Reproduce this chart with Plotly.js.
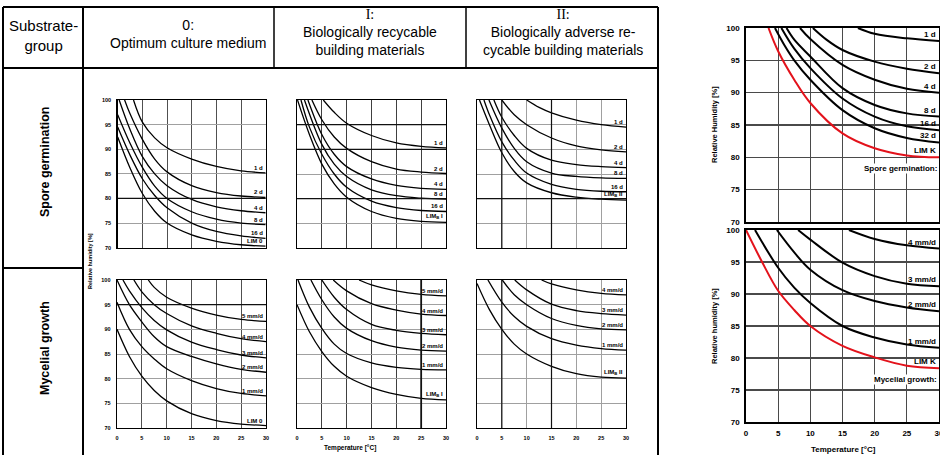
<!DOCTYPE html>
<html><head><meta charset="utf-8">
<script src="https://cdn.plot.ly/plotly-3.0.1.min.js"></script>
<style>html,body{margin:0;padding:0;background:#fff}#chart{width:940px;height:455px}</style>
</head><body><div id="chart"></div>
<script>
// ---------- DATA ----------
// Spore germination, substrate group 0
const spore0Labels = ['1 d','2 d','4 d','8 d','16 d','LIM 0'];
const spore0T = [
  [3.2,5,7.5,10,15,20,25,30],
  [1.4,2.5,5,7.5,10,15,20,25,30],
  [0.3,2.5,5,7.5,10,15,20,25,30],
  [0,2.5,5,7.5,10,15,20,25,30],
  [0,2.5,5,7.5,10,15,20,25,30],
  [0,2.5,5,7.5,10,15,20,25,30]
];
const spore0RH = [
  [100,95.5,92.3,90.3,88,86.5,85.6,85.2],
  [100,97.2,92,88,85.4,82.6,81.2,80.5,80.2],
  [100,94,88.5,85,82.6,79.8,78.3,77.5,77.1],
  [97,91.2,86.3,82.5,80,77.3,75.8,75,74.7],
  [94.5,88.8,84,80.6,78.1,75,73.3,72.4,71.9],
  [92.5,86.2,81,77.4,75,72.6,71.3,70.6,70.3]
];
// Spore germination, substrate group I
const sporeILabels = ['1 d','2 d','4 d','8 d','16 d','LIM<sub>B</sub> I'];
const sporeIT = [
  [5.3,7.5,10,15,20,25,30],
  [3,5,7.5,10,15,20,25,30],
  [2.2,5,7.5,10,15,20,25,30],
  [1.5,5,7.5,10,15,20,25,30],
  [0.8,2.5,5,7.5,10,15,20,25,30],
  [0.1,2.5,5,7.5,10,15,20,25,30]
];
const sporeIRH = [
  [100,97.5,95.3,92.8,91.3,90.6,90.3],
  [100,96,92.5,90.2,87.5,86,85.4,85.1],
  [100,93,89,86.5,84,82.7,82.1,81.9],
  [100,91,87,84.5,81.8,80.6,80.1,79.9],
  [100,94.5,89,85,82.3,79.5,78.2,77.6,77.4],
  [100,93,87,83,80.3,77.4,76,75.4,75.2]
];
// Spore germination, substrate group II
const sporeIILabels = ['1 d','2 d','4 d','8 d','16 d','LIM<sub>B</sub> II'];
const sporeIIT = [
  [10,12.5,15,20,25,30],
  [5,7.5,10,15,20,25,30],
  [3.4,5,7.5,10,15,20,25,30],
  [2.4,5,7.5,10,15,20,25,30],
  [1.4,2.5,5,7.5,10,15,20,25,30],
  [0.5,2.5,5,7.5,10,15,20,25,30]
];
const sporeIIRH = [
  [100,98.5,97.4,95.9,95,94.5],
  [100,97,95,92.3,90.7,89.9,89.5],
  [100,96.5,92.8,90.2,87.8,86.9,86.5,86.3],
  [100,94.3,90.2,87.5,85.2,84.5,84.2,84.1],
  [100,97,91.5,87.8,85.2,82.9,81.9,81.5,81.4],
  [100,95,89.3,85.5,83.2,81.2,80.3,79.9,79.7]
];
// Mycelial growth, substrate group 0
const myc0Labels = ['5 mm/d','4 mm/d','3 mm/d','2 mm/d','1 mm/d','LIM 0'];
const myc0T = [
  [6.3,7.5,10,15,20,25,30],
  [3.4,5,7.5,10,15,20,25,30],
  [1.2,2.5,5,7.5,10,15,20,25,30],
  [0,2.5,5,7.5,10,15,20,25,30],
  [0,2.5,5,7.5,10,15,20,25,30],
  [0,2.5,5,7.5,10,15,20,25,30]
];
const myc0RH = [
  [100,98.5,96.5,94.3,92.9,92.0,91.6],
  [100,97.6,95,93.2,90.7,89.2,88.1,87.5],
  [100,97.8,94.4,91.8,89.9,87.4,85.9,84.8,84.2],
  [100,95,91.5,88.5,86.5,84.5,83,81.9,81.3],
  [95.5,90,86.5,84,82,79.6,78,77,76.5],
  [90,84.5,80.5,77.6,75.5,72.9,71.5,70.8,70.5]
];
// Mycelial growth, substrate group I
const mycILabels = ['5 mm/d','4 mm/d','3 mm/d','2 mm/d','1 mm/d','LIM<sub>B</sub> I'];
const mycIT = [
  [12.5,15,20,25,30],
  [7.3,10,15,20,25,30],
  [5,7.5,10,15,20,25,30],
  [2.8,5,7.5,10,15,20,25,30],
  [0.2,2.5,5,7.5,10,15,20,25,30],
  [0,2.5,5,7.5,10,15,20,25,30]
];
const mycIRH = [
  [100,99,97.8,97.1,96.8],
  [100,97.8,95.2,93.9,93.1,92.8],
  [100,96.5,94,91,89.8,89.2,88.9],
  [100,96,92.5,90.2,87.7,86.4,85.8,85.6],
  [100,94.5,90.2,87,85.1,83.2,82.3,81.9,81.8],
  [95,89.5,85.5,82.5,80.5,78.2,76.8,76,75.7]
];
// Mycelial growth, substrate group II
const mycIILabels = ['4 mm/d','3 mm/d','2 mm/d','1 mm/d','LIM<sub>B</sub> II'];
const mycIIT = [
  [13,15,20,25,30],
  [7.6,10,15,20,25,30],
  [5.1,7.5,10,15,20,25,30],
  [2.2,5,7.5,10,15,20,25,30],
  [0,2.5,5,7.5,10,15,20,25,30]
];
const mycIIRH = [
  [100,99.2,98,97.3,97],
  [100,98,95.1,93.8,93.2,92.9],
  [100,97,95,92.2,90.8,90.1,89.9],
  [100,95.5,92.6,90.6,88.1,86.8,86.1,85.8],
  [99.3,94,90,87,85,82.5,81,80.3,80.1]
];
// Right: spore germination, LIM K
const sporeKLabels = ['1 d','2 d','4 d','8 d','16 d','32 d','LIM K'];
const sporeKT = [
  [17.4,20,25,30],
  [10.4,12.5,15,20,25,30],
  [8.4,10,15,20,25,30],
  [6.3,7.5,10,15,20,25,30],
  [5.5,7.5,10,15,20,25,30],
  [4.5,6,7.5,10,15,20,25,30],
  [3.5,5,7.5,10,15,20,25,30]
];
const sporeKRH = [
  [100,99.1,98.4,98],
  [100,98.2,96.6,94.8,93.7,93],
  [100,98.3,94.3,92,90.6,90],
  [100,98.2,95.6,90.7,88.1,86.8,86.3],
  [100,96.8,93.8,89.1,86.3,84.8,84.2],
  [100,97.3,95,92,87.3,84.5,83,82.3],
  [100,96.4,92,88.4,83.7,81.4,80.3,80]
];
// Right: mycelial growth, LIM K
const mycKLabels = ['4 mm/d','3 mm/d','2 mm/d','1 mm/d','LIM K'];
const mycKT = [
  [16,20,25,30],
  [8.1,10,15,20,25,30],
  [4.8,7.5,10,15,20,25,30],
  [1.4,5,7.5,10,15,20,25,30],
  [0,2.5,5,7.5,10,15,20,25,30]
];
const mycKRH = [
  [100,98.6,97.6,97.1],
  [100,98.5,94.9,92.8,91.6,91.2],
  [100,96.5,93.8,90.6,88.9,87.9,87.3],
  [100,94.1,91,88.6,85,83.2,82.1,81.6],
  [100,95,90.5,87.5,85,81.9,80.1,78.8,78.4]
];
const xTicks = [0,5,10,15,20,25,30];
const yTicks = [70,75,80,85,90,95,100];

// ---------- LAYOUT ----------
const W = 940, H = 455;
const PX = v => v / W;
const PY = v => 1 - v / H;
const FONT = 'Liberation Sans, Arial, sans-serif';

const charts = [
  {xd:[117.7,265.7], yd:[100,247.7], T:spore0T, RH:spore0RH, L:spore0Labels, yt:true, xt:false, xg:'#505050', yg:'#a0a0a0', hl:[80], vl:[]},
  {xd:[297,446], yd:[100,248], T:sporeIT, RH:sporeIRH, L:sporeILabels, yt:false, xt:false, xg:'#404040', yg:'#a0a0a0', hl:[95,90,80], vl:[]},
  {xd:[477,626], yd:[100,248], T:sporeIIT, RH:sporeIIRH, L:sporeIILabels, yt:false, xt:false, xg:'#a0a0a0', yg:'#a0a0a0', hl:[80], vl:[5,15]},
  {xd:[117,266], yd:[280,428], T:myc0T, RH:myc0RH, L:myc0Labels, yt:true, xt:true, xg:'#505050', yg:'#a0a0a0', hl:[95], vl:[]},
  {xd:[297,446], yd:[280,428], T:mycIT, RH:mycIRH, L:mycILabels, yt:false, xt:true, xg:'#404040', yg:'#a0a0a0', hl:[], vl:[25]},
  {xd:[477,626], yd:[280,428], T:mycIIT, RH:mycIIRH, L:mycIILabels, yt:false, xt:true, xg:'#a0a0a0', yg:'#a0a0a0', hl:[], vl:[5,15]},
  {xd:[746,939], yd:[28,222], T:sporeKT, RH:sporeKRH, L:sporeKLabels, yt:true, xt:false, big:true, note:'Spore germination:'},
  {xd:[746,939], yd:[230,422], T:mycKT, RH:mycKRH, L:mycKLabels, yt:true, xt:true, big:true, note:'Mycelial growth:'}
];

const data = [];
const layout = {
  width: W, height: H, autosize: false,
  margin: {l:0, r:0, t:0, b:0, pad:0},
  paper_bgcolor: '#fff', plot_bgcolor: '#fff',
  showlegend: false,
  font: {family: FONT, color: '#000'},
  shapes: [], annotations: []
};

charts.forEach((c, i) => {
  const n = i === 0 ? '' : String(i + 1);
  const big = !!c.big;
  const tf = {family: FONT, size: big ? 8 : 5.5, weight: 'bold', color: '#000'};
  const common = {
    showgrid: true, gridwidth: big ? 1.2 : 1, zeroline: false,
    showline: true, mirror: true, linecolor: '#000', linewidth: big ? 1.8 : 1.4,
    ticks: '', tickfont: tf, fixedrange: true, ticklabelstandoff: big ? 3 : 4,
    ticklabeloverflow: 'allow'
  };
  layout['xaxis' + n] = Object.assign({}, common, {
    domain: [PX(c.xd[0]), PX(c.xd[1])], range: [0, 30], anchor: 'y' + n,
    tickmode: 'array', tickvals: xTicks, ticktext: xTicks.map(String),
    showticklabels: c.xt, gridcolor: big ? '#4a4a4a' : c.xg
  });
  layout['yaxis' + n] = Object.assign({}, common, {
    domain: [PY(c.yd[1]), PY(c.yd[0])], range: [70, 100], anchor: 'x' + n,
    tickmode: 'array', tickvals: yTicks, ticktext: yTicks.map(String),
    showticklabels: c.yt, gridcolor: big ? '#4a4a4a' : c.yg
  });
  (c.hl || []).forEach(v => layout.shapes.push({type:'line', layer:'above', xref:'x' + n, yref:'y' + n,
    x0:0, x1: (i === 5 ? 24 : 30), y0:v, y1:v, line:{color:'#111', width:1.2}}));
  (c.vl || []).forEach(v => layout.shapes.push({type:'line', layer:'above', xref:'x' + n, yref:'y' + n,
    x0:v, x1:v, y0:70, y1:100, line:{color:'#111', width: v === 25 ? 1.8 : 1.2}}));

  c.T.forEach((t, k) => {
    const lab = c.L[k];
    const red = lab === 'LIM K';
    data.push({
      type: 'scatter', mode: 'lines', x: t, y: c.RH[k],
      xaxis: 'x' + n, yaxis: 'y' + n, hoverinfo: 'skip',
      line: {shape: 'spline', smoothing: 1, color: red ? '#e3121b' : '#000', width: big ? 2 : 1.3}
    });
    layout.annotations.push({
      text: lab, xref: 'x' + n, yref: 'y' + n,
      x: t[t.length - 1], y: c.RH[k][c.RH[k].length - 1],
      xanchor: 'right', yanchor: 'bottom', showarrow: false, xshift: -1, yshift: 0,
      font: {family: FONT, size: big ? 8 : 6, weight: 'bold', color: '#000'}
    });
  });
  if (c.note) {
    const last = c.RH[c.RH.length - 1];
    layout.annotations.push({
      text: c.note, xref: 'x' + n, yref: 'y' + n, x: 30, y: last[last.length - 1],
      xanchor: 'right', yanchor: 'top', yshift: -6, xshift: -1, showarrow: false,
      bgcolor: '#fff', borderpad: 0,
      font: {family: FONT, size: 8, weight: 'bold', color: '#000'}
    });
  }
});

// axis titles
const paperText = (text, x, y, size, opts) => layout.annotations.push(Object.assign({
  text, xref:'paper', yref:'paper', x: PX(x), y: PY(y), xanchor:'center', yanchor:'middle',
  showarrow:false, font:{family:FONT, size, color:'#000'}
}, opts || {}));
const bold = s => ({font:{family:FONT, size:s, weight:'bold', color:'#000'}});
paperText('Relative humidity [%]', 90, 261, 5.5, Object.assign({textangle:-90}, bold(5.5)));
paperText('Temperature [°C]', 350, 448, 6.5, bold(6.5));
paperText('Relative Humidity [%]', 714, 125, 7.5, Object.assign({textangle:-90}, bold(7.5)));
paperText('Relative humidity [%]', 714, 326, 7.5, Object.assign({textangle:-90}, bold(7.5)));
paperText('Temperature [°C]', 843, 449, 8, bold(8));

// table header texts
paperText('Substrate-<br>group', 43, 36, 15);
paperText('0:<br>Optimum culture medium', 188, 34, 14);
paperText("<span style='font-family:Liberation Serif'>I:</span><br>Biologically recycable<br>building materials", 370, 33, 14);
paperText("<span style='font-family:Liberation Serif'>II:</span><br>Biologically adverse re-<br>cycable building materials", 563, 33, 14);
paperText('Spore germination', 45, 162, 12.5, Object.assign({textangle:-90}, bold(12.5)));
paperText('Mycelial growth', 45, 348, 12.5, Object.assign({textangle:-90}, bold(12.5)));

// table lines
const tl = (x0, y0, x1, y1, w) => layout.shapes.push({type:'line', xref:'paper', yref:'paper',
  x0:PX(x0), y0:PY(y0), x1:PX(x1), y1:PY(y1), line:{color:'#000', width:w}});
tl(3, 7, 658, 7, 2);
tl(3, 68, 658, 68, 2);
tl(3, 7, 3, 455, 2);
tl(658, 7, 658, 455, 2);
tl(83, 7, 83, 455, 2);
tl(274, 7, 274, 68, 1.5);
tl(466, 7, 466, 68, 1.5);
tl(3, 268, 83, 268, 2);

Plotly.newPlot('chart', data, layout, {staticPlot: true, displayModeBar: false});
</script>
</body></html>
